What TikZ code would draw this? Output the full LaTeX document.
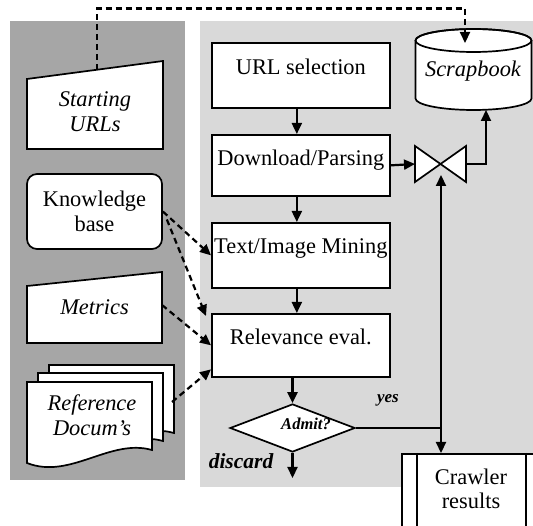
\documentclass[tikz,border=0pt]{standalone}
\usepackage{fontspec}
\setmainfont{Liberation Serif}
\usetikzlibrary{arrows.meta,shapes.geometric}
\definecolor{panelDark}{HTML}{A6A6A6}
\definecolor{panelLight}{HTML}{D9D9D9}

\begin{document}
\begin{tikzpicture}[x=1pt,y=-1pt,
  font=\fontsize{22.4}{25}\selectfont,
  line width=1.7pt,
  procbox/.style={draw, fill=white, minimum width=178pt, inner xsep=0pt, inner ysep=0pt,
                  text height=31pt, anchor=north west},
  txtlabel/.style={inner sep=0pt, align=center},
  flowarrow/.style={-{Triangle[length=11pt,width=10pt]}, line width=2.2pt},
  dasharrow/.style={-{Triangle[length=11pt,width=10pt]}, line width=2.2pt,
                    dash pattern=on 6pt off 4pt}]

\useasboundingbox (0,0) rectangle (533,526);
\clip (0,0) rectangle (533,526);

% background panels
\fill[panelDark] (10,21) rectangle (185,480);
\fill[panelLight] (200,21) rectangle (533,487);

% ---- inputs (left panel) ----
% Starting URLs (manual input)
\draw[fill=white] (27,79) -- (163,61) -- (163,149) -- (27,149) -- cycle;
\node[txtlabel] (starturls) at (95,111.5) {\itshape Starting\\\itshape URLs};
\coordinate (suTop) at (97,70);

% Knowledge base
\node[draw, fill=white, rounded corners=10pt, minimum width=135pt, minimum height=75pt,
      align=center, inner sep=0pt] (kb) at (94.5,211.5) {Knowledge\\base};

% Metrics (manual input)
\draw[fill=white] (27,286) -- (162,272) -- (162,343) -- (27,343) -- cycle;
\node[txtlabel] (metrics) at (94.5,307) {\itshape Metrics};
\coordinate (metOut) at (162,305);

% Reference documents (stack)
\foreach \dx/\dy in {22/-17, 11/-9, 0/0} {
  \draw[fill=white, shift={(\dx,\dy)}]
    (27,382) -- (152,382) -- (152,450)
    .. controls (110,438) and (70,480) .. (27,463) -- cycle;
}
\node[txtlabel] (refdocs) at (92,415.5) {\itshape Reference\\\itshape Docum's};
\coordinate (refOut) at (172,402);

% ---- processing chain ----
\node[procbox, text depth=34pt] (url) at (211,42.5) {URL selection};
\node[procbox, text depth=30pt] (dl)  at (211,134)  {Download/Parsing};
\node[procbox, text depth=34pt] (tim) at (211,222)  {Text/Image Mining};
\node[procbox, text depth=32pt] (rel) at (211,313)  {Relevance eval.};

\draw[flowarrow] ([xshift=-4pt]url.south) -- ([xshift=-4pt]dl.north);
\draw[flowarrow] ([xshift=-4pt]dl.south) -- ([xshift=-4pt]tim.north);
\draw[flowarrow] ([xshift=-4pt]tim.south) -- ([xshift=-4pt]rel.north);

% decision
\node[diamond, draw, fill=white, minimum width=125pt, minimum height=48pt, inner sep=0pt]
  (admit) at (292.5,428) {};
\node[txtlabel] (admittxt) at (306,424) {\fontsize{16.5}{18}\selectfont\bfseries\itshape Admit?};
\draw[flowarrow] (admit.north |- rel.south) -- (admit.north);
\coordinate (discardEnd) at (292.5,478);
\draw[flowarrow] (admit.south) -- (discardEnd);
\node[txtlabel] (discard) at (241,461) {\fontsize{21.5}{24}\selectfont\bfseries\itshape discard};

% Scrapbook store
\draw[fill=white] (415.5,40.5) -- (415.5,98.5)
  arc[start angle=180, end angle=0, x radius=58, y radius=11.5]
  -- (531.5,40.5)
  arc[start angle=0, end angle=-180, x radius=58, y radius=11.5] -- cycle;
\draw (473.5,40.5) ellipse[x radius=58, y radius=11.5];
\node[txtlabel] (scrap) at (473,71) {\itshape Scrapbook};
\coordinate (scrapTop) at (465,43);
\coordinate (scrapBot) at (486,110);

% merge (bow tie)
\draw[fill=white] (415,146) -- (440.5,164) -- (415,182) -- cycle;
\draw[fill=white] (466,146) -- (440.5,164) -- (466,182) -- cycle;
\coordinate (bowL) at (415,164);
\coordinate (bowR) at (466,164);
\coordinate (bowB) at (441,175);

% crawler results (predefined process)
\node[draw, fill=white, minimum width=141pt, minimum height=90pt, anchor=north west,
      inner sep=0pt] (crawl) at (401,453) {};
\draw (417,453) -- (417,543);
\draw (526,453) -- (526,543);
\node[txtlabel, font=\fontsize{22.4}{24}\selectfont] (crawltxt) at (471,488.5) {Crawler\\results};

% connections
\draw[flowarrow] (dl.east) -- (bowL);
\draw[flowarrow] (bowR) -| (scrapBot);
\coordinate (junc) at (441,428);
\draw (admit.east) -- (junc);
\draw[flowarrow] (junc) -- (bowB);
\draw[flowarrow] (junc) -- (junc |- crawl.north);
\node[txtlabel] (yes) at (388,400) {\fontsize{17}{20}\selectfont\bfseries\itshape yes};

% dashed inputs
\draw[dasharrow] (suTop) -- (97,8.5) -| (scrapTop);
\draw[dasharrow] (kb.east) -- (tim.west);
\draw[dasharrow] ([shift={(4,8)}]kb.east) -- ([shift={(-5,3)}]rel.north west);
\draw[dasharrow] (metOut) -- (rel.west);
\draw[dasharrow] (refOut) -- ([shift={(0,24)}]rel.west);

\end{tikzpicture}
\end{document}
